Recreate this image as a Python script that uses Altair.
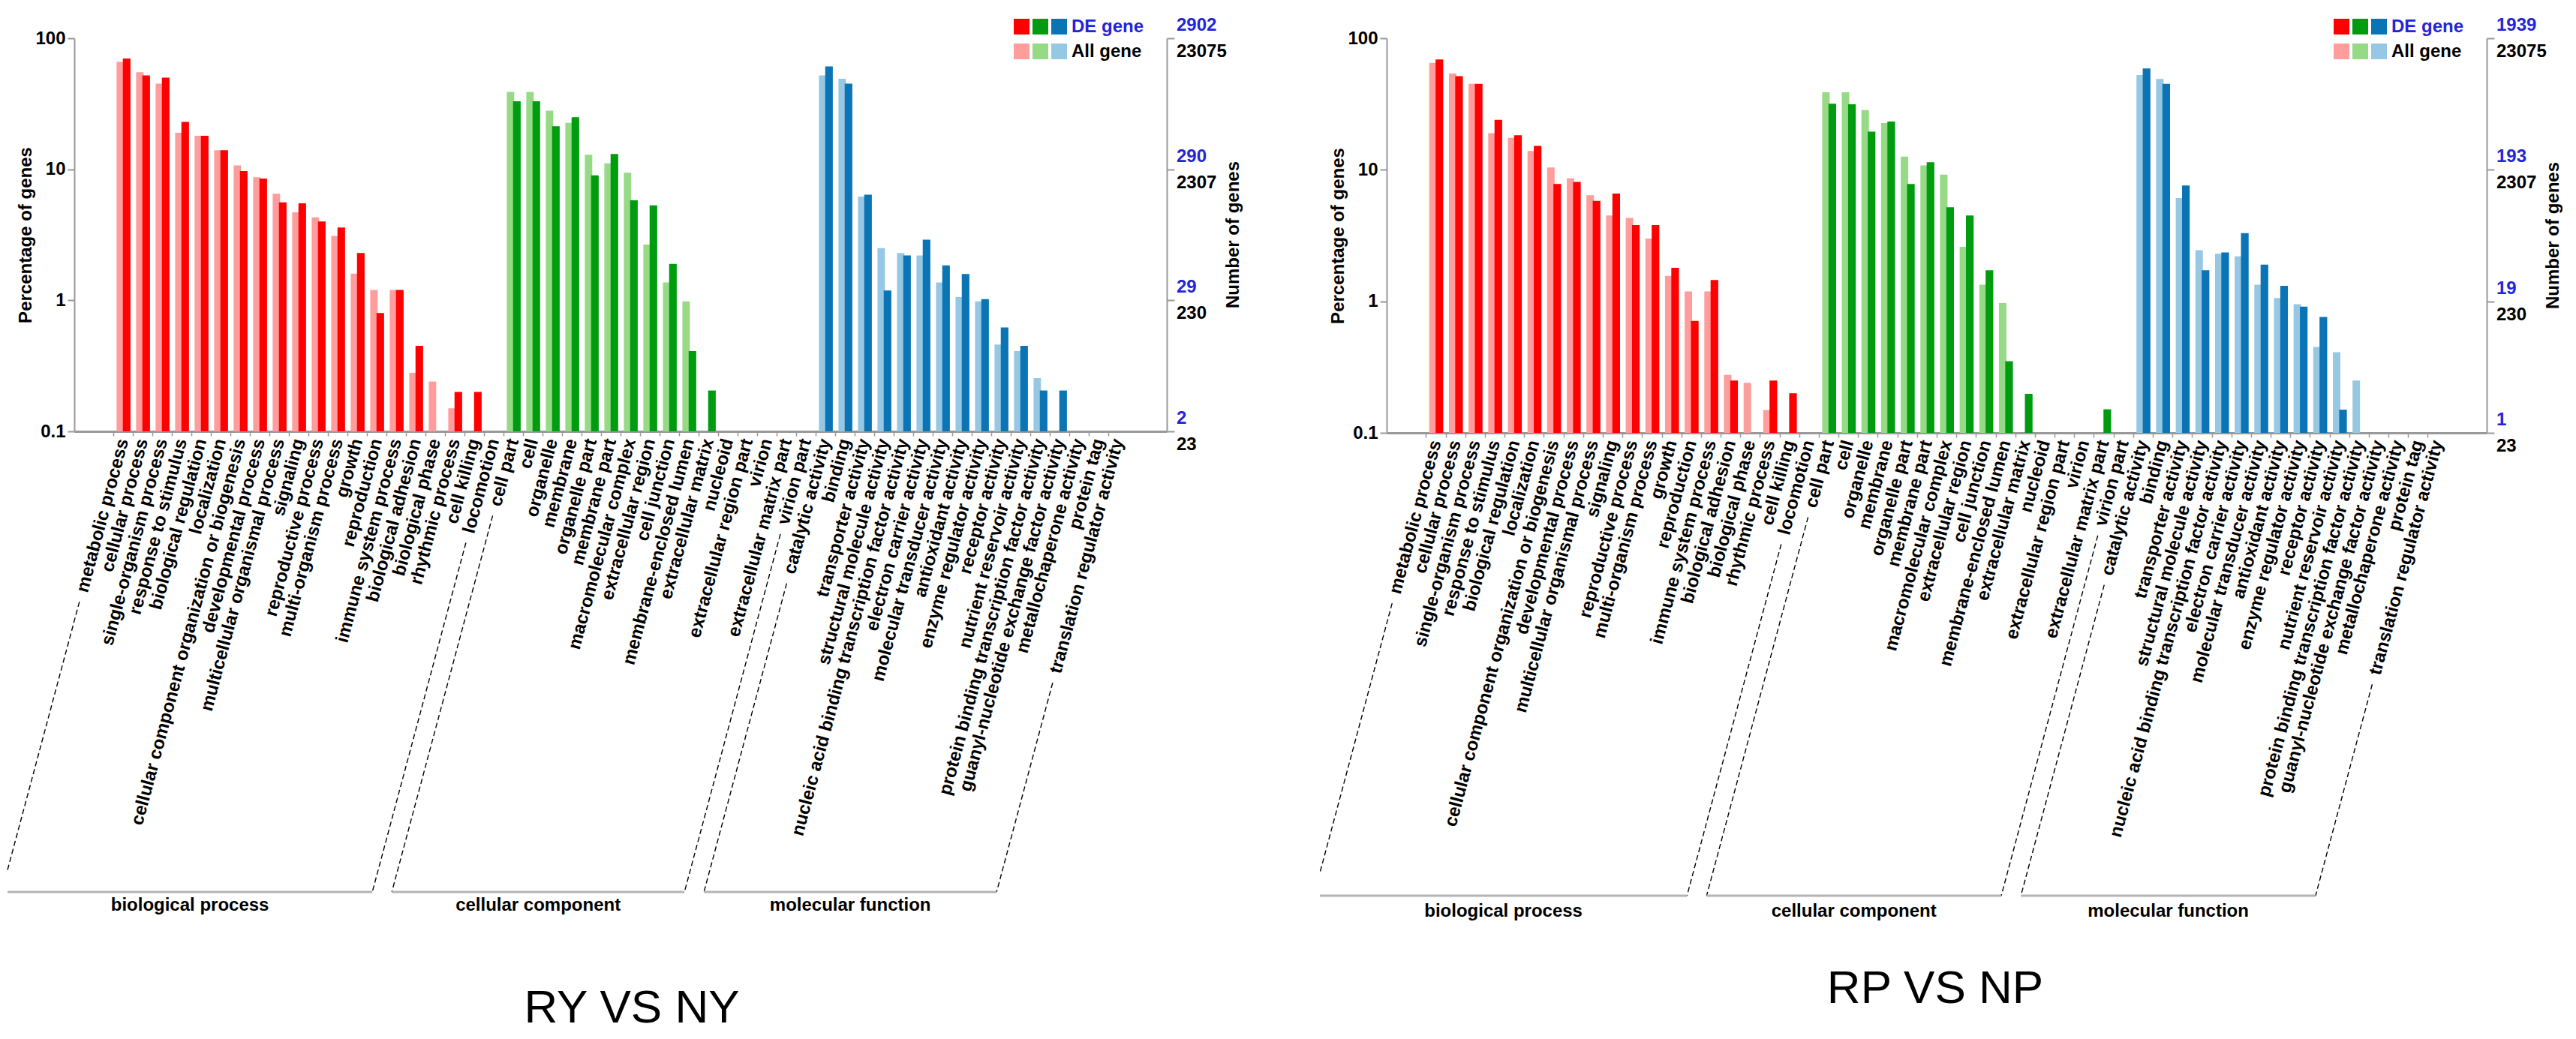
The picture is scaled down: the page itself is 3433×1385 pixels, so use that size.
import math
import altair as alt
import pandas as pd

# ---------------- data ----------------
CATS = [
    "metabolic process", "cellular process", "single-organism process", "response to stimulus",
    "biological regulation", "localization", "cellular component organization or biogenesis",
    "developmental process", "multicellular organismal process", "signaling", "reproductive process",
    "multi-organism process", "growth", "reproduction", "immune system process", "biological adhesion",
    "biological phase", "rhythmic process", "cell killing", "locomotion",
    "cell part", "cell", "organelle", "membrane", "organelle part", "membrane part",
    "macromolecular complex", "extracellular region", "cell junction", "membrane-enclosed lumen",
    "extracellular matrix", "nucleoid", "extracellular region part", "virion",
    "extracellular matrix part", "virion part",
    "catalytic activity", "binding", "transporter activity", "structural molecule activity",
    "nucleic acid binding transcription factor activity", "electron carrier activity",
    "molecular transducer activity", "antioxidant activity", "enzyme regulator activity",
    "receptor activity", "nutrient reservoir activity",
    "protein binding transcription factor activity",
    "guanyl-nucleotide exchange factor activity", "metallochaperone activity", "protein tag",
    "translation regulator activity",
]
GROUP_NAMES = ["biological process", "cellular component", "molecular function"]
GROUP_KEYS = ["bp", "cc", "mf"]
GROUP_SIZES = [20, 16, 16]

N = None
# RY VS NY  (percentage of genes)
RY_ALL = [66, 55, 45, 19, 18, 14, 10.7, 8.7, 6.5, 4.7, 4.3, 3.1, 1.6, 1.2, 1.2, 0.28, 0.24, 0.15, N, N,
          39, 39, 28, 22.6, 12.9, 11.1, 9.4, 2.66, 1.37, 0.98, N, N, N, N, N, N,
          52, 49, 6.2, 2.5, 2.3, 2.2, 1.37, 1.06, 0.98, 0.46, 0.41, 0.255, N, N, N, N]
RY_DE = [70, 52, 50, 23, 18, 14, 9.7, 8.5, 5.6, 5.5, 4.0, 3.6, 2.3, 0.8, 1.2, 0.45, N, 0.2, 0.2, N,
         33, 33, 21.3, 25, 9.0, 13.1, 5.8, 5.3, 1.9, 0.41, 0.205, N, N, N, N, N,
         61, 45, 6.4, 1.19, 2.2, 2.9, 1.85, 1.59, 1.02, 0.62, 0.45, 0.205, 0.205, N, N, N]
# RP VS NP
RP_ALL = [65, 54, 45, 19, 17.5, 13.9, 10.4, 8.6, 6.4, 4.5, 4.3, 3.0, 1.56, 1.19, 1.19, 0.276, 0.24, 0.149, N, N,
          38.9, 38.9, 28.4, 22.7, 12.6, 10.8, 9.2, 2.6, 1.34, 0.97, N, N, N, N, N, N,
          52.6, 49, 6.1, 2.45, 2.3, 2.2, 1.34, 1.06, 0.95, 0.45, 0.41, 0.25, N, N, N, N]
RP_DE = [69, 51.5, 45, 24, 18.3, 15.2, 7.8, 8.1, 5.8, 6.6, 3.8, 3.8, 1.8, 0.71, 1.45, 0.25, N, 0.25, 0.2, N,
         31.8, 31.5, 19.5, 23.3, 7.8, 11.4, 5.2, 4.5, 1.72, 0.35, 0.198, N, N, N, 0.151, N,
         59, 45, 7.6, 1.72, 2.35, 3.3, 1.9, 1.31, 0.91, 0.76, 0.15, N, N, N, N, N]

TICK_PCT = [100, 10, 1, 0.1]
RY_DE_TICKS = ["2902", "290", "29", "2"]
RY_ALL_TICKS = ["23075", "2307", "230", "23"]
RP_DE_TICKS = ["1939", "193", "19", "1"]
RP_ALL_TICKS = ["23075", "2307", "230", "23"]

# ---------------- style ----------------
FONT = "Liberation Sans"
KEYS = ["bp|DE", "cc|DE", "mf|DE", "bp|All", "cc|All", "mf|All"]
COLORS = ["#ff0000", "#009c10", "#0a74b4", "#ff9c9c", "#96da86", "#96c8e4"]
BLUE = "#2424d8"
AXIS_GREY = "#999999"
FS = 24
TICK = 6
LPAD = 4
ANG = 75.0
COT = 1.0 / math.tan(math.radians(ANG))
SIN = math.sin(math.radians(ANG))
AW = {' ': 278, '-': 333, 'a': 556, 'b': 611, 'c': 556, 'd': 611, 'e': 556, 'f': 333, 'g': 611,
      'h': 611, 'i': 278, 'j': 278, 'k': 556, 'l': 278, 'm': 889, 'n': 611, 'o': 611, 'p': 611,
      'q': 611, 'r': 389, 's': 556, 't': 333, 'u': 611, 'v': 556, 'w': 778, 'x': 556, 'y': 556,
      'z': 500}


def label_len(s):
    return sum(AW.get(ch, 556) for ch in s) * FS / 1000.0


def panel(all_vals, de_vals, de_ticks, all_ticks, title, W, H, line_off, grp_off, title_off, title_dx):
    step = W / 56.0

    def d(px):
        return px / step - 2.5

    grp_of = []
    for g, n in enumerate(GROUP_SIZES):
        grp_of += [GROUP_KEYS[g]] * n

    rows = []
    for series, vals in (("All", all_vals), ("DE", de_vals)):
        for i, v in enumerate(vals):
            if v is not None:
                rows.append({"idx": i, "cat": CATS[i], "series": series, "grp": grp_of[i], "pct": v})
    df = pd.DataFrame(rows)

    xscale = alt.Scale(domain=[-2.5, 53.5], nice=False, zero=False)
    yscale = alt.Scale(type="log", domain=[0.1, 100], nice=False)
    label_expr = "[" + ",".join("'%s'" % c for c in CATS) + "][datum.value]"

    bars = alt.Chart(df).transform_calculate(
        x0="datum.idx + (datum.series == 'All' ? -0.33 : -0.01)",
        x1="datum.idx + (datum.series == 'All' ? 0.05 : 0.38)",
        key="datum.grp + '|' + datum.series",
    ).mark_bar().encode(
        x=alt.X("x0:Q", scale=xscale, axis=alt.Axis(
            values=list(range(len(CATS))), labelExpr=label_expr, labelAngle=285,
            labelAlign="right", labelBaseline="middle", labelFontSize=FS, labelFontWeight="bold",
            labelColor="black", labelOverlap=False, labelBound=False, labelFlush=False,
            labelPadding=LPAD, tickSize=TICK, tickOffset=-step / 2, labelOffset=step / 2,
            tickColor=AXIS_GREY, domainColor=AXIS_GREY, domainWidth=3, tickWidth=1.5,
            grid=False, title=None, labelLimit=1000)),
        x2="x1:Q",
        y=alt.Y("pct:Q", scale=yscale, axis=alt.Axis(
            values=TICK_PCT, format="~g", title="Percentage of genes", grid=False,
            tickSize=9, labelPadding=3, titlePadding=0, labelFontSize=FS, labelFontWeight="bold",
            titleFontSize=FS, titleFontWeight="bold", domainColor=AXIS_GREY, tickColor=AXIS_GREY,
            domainWidth=2, tickWidth=2, labelColor="black", titleColor="black")),
        y2=alt.datum(0.1),
        color=alt.Color("key:N", scale=alt.Scale(domain=KEYS, range=COLORS), legend=None),
    )

    tick_df = pd.DataFrame({"pct": TICK_PCT, "de": de_ticks, "all": all_ticks})
    right_de = alt.Chart(tick_df).mark_text(
        align="left", baseline="middle", dy=-17, fontSize=FS, fontWeight="bold", color=BLUE
    ).encode(
        x=alt.value(W + 13),
        y=alt.Y("pct:Q", scale=yscale, axis=alt.Axis(
            orient="right", values=TICK_PCT, labels=False, title=None, grid=False, tickSize=10,
            domainColor=AXIS_GREY, tickColor=AXIS_GREY, domainWidth=2, tickWidth=2)),
        text="de:N",
    )
    right_all = alt.Chart(tick_df).mark_text(
        align="left", baseline="middle", dy=18, fontSize=FS, fontWeight="bold", color="black"
    ).encode(
        x=alt.value(W + 13),
        y=alt.Y("pct:Q", scale=yscale, axis=None),
        text="all:N",
    )
    right_title = alt.Chart(pd.DataFrame({"t": ["Number of genes"]})).mark_text(
        angle=270, align="center", baseline="middle", fontSize=FS, fontWeight="bold", color="black"
    ).encode(x=alt.value(W + 89), y=alt.value(H / 2), text="t:N")

    # legend
    leg_rows = []
    for r, lab in enumerate(["DE", "All"]):
        for k, gk in enumerate(GROUP_KEYS):
            x0 = W - 204 + 25 * k
            y0 = -26 + 33 * r
            leg_rows.append({"lx0": d(x0), "lx1": d(x0 + 21), "ly0": y0, "ly1": y0 + 21,
                             "key": gk + "|" + lab})
    leg = alt.Chart(pd.DataFrame(leg_rows)).mark_rect().encode(
        x=alt.X("lx0:Q", scale=xscale, axis=None), x2="lx1:Q",
        y=alt.Y("ly0:Q", scale=None, axis=None), y2="ly1:Q",
        color=alt.Color("key:N", scale=alt.Scale(domain=KEYS, range=COLORS), legend=None),
    )
    leg_de = alt.Chart(pd.DataFrame({"t": ["DE gene"]})).mark_text(
        align="left", baseline="middle", fontSize=FS, fontWeight="bold", color=BLUE
    ).encode(x=alt.value(W - 127), y=alt.value(-15.5), text="t:N")
    leg_all = alt.Chart(pd.DataFrame({"t": ["All gene"]})).mark_text(
        align="left", baseline="middle", fontSize=FS, fontWeight="bold", color="black"
    ).encode(x=alt.value(W - 127), y=alt.value(17.5), text="t:N")

    # group brackets
    anchor_y = H + TICK + LPAD
    dash_rows, solid_rows, grp_rows = [], [], []
    start = 0
    for g, n in enumerate(GROUP_SIZES):
        ends = []
        for i in (start, start + n - 1):
            c_px = (i + 2.5) * step
            ys = anchor_y + (label_len(CATS[i]) + 14) * SIN
            xs = c_px - (ys - anchor_y) * COT
            ye = H + line_off
            xe = c_px - (ye - anchor_y) * COT
            if xe < -89:
                xe = -89
                ye = anchor_y + (c_px + 89) / COT
            dash_rows.append({"x1": d(xs), "x2": d(xe), "y1": ys, "y2": ye})
            ends.append(xe)
        solid_rows.append({"x1": d(ends[0]), "x2": d(ends[1]), "y1": H + line_off})
        grp_rows.append({"gx": d((ends[0] + ends[1]) / 2), "gy": H + grp_off, "name": GROUP_NAMES[g]})
        start += n

    dashes = alt.Chart(pd.DataFrame(dash_rows)).mark_rule(
        color="black", strokeWidth=1.4, strokeDash=[7, 4]
    ).encode(
        x=alt.X("x1:Q", scale=xscale, axis=None), x2="x2:Q",
        y=alt.Y("y1:Q", scale=None, axis=None), y2="y2:Q",
    )
    solids = alt.Chart(pd.DataFrame(solid_rows)).mark_rule(
        color="#b4b4b4", strokeWidth=3
    ).encode(
        x=alt.X("x1:Q", scale=xscale, axis=None), x2="x2:Q",
        y=alt.Y("y1:Q", scale=None, axis=None),
    )
    grp_text = alt.Chart(pd.DataFrame(grp_rows)).mark_text(
        align="center", baseline="middle", fontSize=FS, fontWeight="bold", color="black"
    ).encode(
        x=alt.X("gx:Q", scale=xscale, axis=None),
        y=alt.Y("gy:Q", scale=None, axis=None),
        text="name:N",
    )
    ttl = alt.Chart(pd.DataFrame({"t": [title]})).mark_text(
        align="center", baseline="alphabetic", fontSize=62, fontWeight="normal", color="black"
    ).encode(x=alt.value(W / 2 + title_dx), y=alt.value(H + title_off), text="t:N")

    return alt.layer(
        bars, right_de, right_all, right_title, leg, leg_de, leg_all, dashes, solids, grp_text, ttl
    ).resolve_scale(y="independent").resolve_axis(x="independent").properties(width=W, height=H)


left = panel(RY_ALL, RY_DE, RY_DE_TICKS, RY_ALL_TICKS, "RY VS NY",
             1456, 524, 614, 632, 788, 15)
right = panel(RP_ALL, RP_DE, RP_DE_TICKS, RP_ALL_TICKS, "RP VS NP",
              1466, 526, 617, 638, 760, -2)

chart = alt.hconcat(left, right, spacing=101).properties(
    padding={"left": 0, "top": 14, "right": 0, "bottom": 0}
).configure(font=FONT).configure_view(stroke=None)

chart.save("out.html", embed_options={"renderer": "svg", "actions": False})
